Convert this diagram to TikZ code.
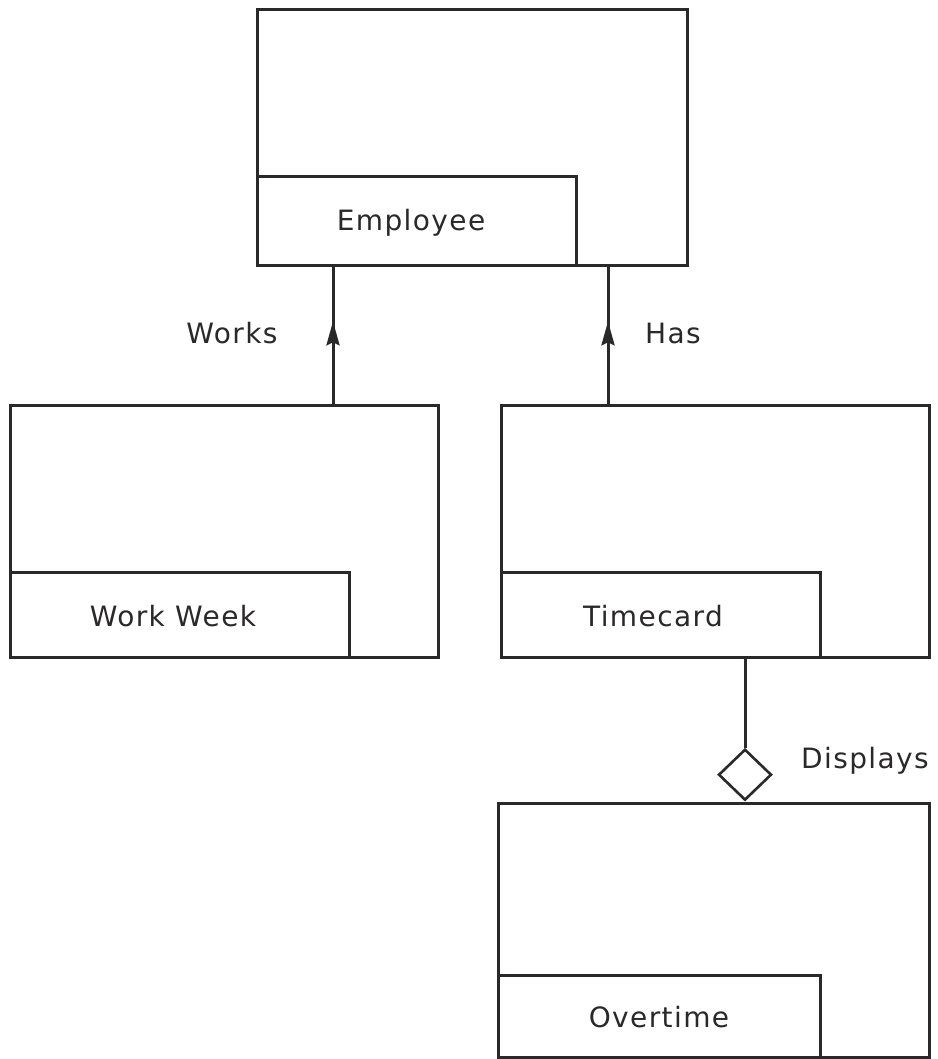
\documentclass[tikz,border=0pt]{standalone}
\usepackage{fontspec}
\setmainfont{DejaVu Sans}[LetterSpace=5]
\usetikzlibrary{shapes.geometric,arrows.meta,decorations.markings}
\definecolor{ink}{HTML}{2A2829}
\begin{document}
\begin{tikzpicture}[x=1pt,y=-1pt,
  every node/.style={font=\fontsize{28}{33}\selectfont, text=ink},
  entity/.style={draw=ink, line width=3pt, rectangle, inner sep=0pt},
  namebox/.style={draw=ink, line width=3pt, rectangle, inner sep=0pt},
  link/.style={draw=ink, line width=3pt},
  midarrow/.style={postaction={decorate}, decoration={markings,
    mark=at position #1 with {\arrow{Stealth[length=24pt,width=13pt,inset=3pt]}}}},
  agg/.style={draw=ink, line width=2.6pt, shape=diamond, aspect=1.04, inner sep=0pt,
    minimum width=53pt, minimum height=51pt, fill=white}
]
\useasboundingbox (0,0) rectangle (937,1059);

% entity frames
\node[entity, minimum width=430pt, minimum height=255pt] (emp) at (472,137.5) {};
\node[entity, minimum width=428pt, minimum height=252pt] (ww) at (224,531) {};
\node[entity, minimum width=428pt, minimum height=252pt] (tc) at (715,531) {};
\node[entity, minimum width=431pt, minimum height=254pt] (ot) at (713.5,930) {};

% name boxes in the lower left corners
\node[namebox, minimum width=319pt, minimum height=88pt] (empn) at (416.5,221) {};
\node[namebox, minimum width=339pt, minimum height=85pt] (wwn) at (179.5,614.5) {};
\node[namebox, minimum width=319pt, minimum height=85pt] (tcn) at (660.5,614.5) {};
\node[namebox, minimum width=322pt, minimum height=82pt] (otn) at (659,1016) {};
\node (empt) at (411,223) {Employee};
\node (wwt) at (173,616) {Work Week};
\node (tct) at (653,616) {Timecard};
\node (ott) at (659,1017) {Overtime};

% relationships
\coordinate (wx) at (333,0);
\coordinate (hx) at (608,0);
\coordinate (dx) at (745,0);

\draw[link, midarrow=0.6] (wx |- ww.north) -- (wx |- emp.south);
\draw[link, midarrow=0.6] (hx |- tc.north) -- (hx |- emp.south);

\node[agg, anchor=south] (dia) at (dx |- ot.north) {};
\draw[link] (dx |- tc.south) -- (dia.north);

% relationship labels
\node (lworks) at (232,333) {Works};
\node (lhas) at (673,333) {Has};
\node (ldisp) at (865,761) {Displays};
\end{tikzpicture}
\end{document}
